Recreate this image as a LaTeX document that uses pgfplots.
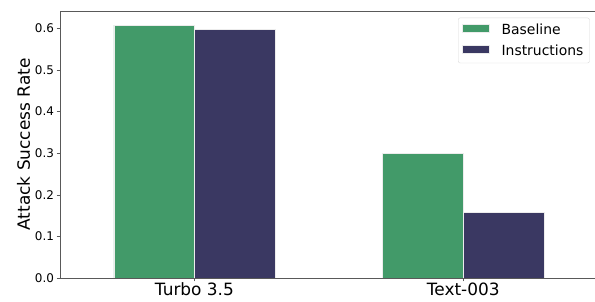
\documentclass[border=0pt]{standalone}
\usepackage{pgfplots}
\pgfplotsset{compat=1.18}
\usepackage{fontspec}
\setmainfont{DejaVu Sans}
\definecolor{cgreen}{HTML}{429A69}
\definecolor{cnavy}{HTML}{3A3862}
\begin{document}
\begin{tikzpicture}
\begin{axis}[
  name=a,
  scale only axis,
  width=535bp, height=267bp,
  xmin=-0.5, xmax=1.49,
  ymin=0, ymax=0.641,
  ybar, bar width=0.3, bar shift auto,
  xtick={0,1}, xticklabels={Turbo 3.5, Text-003},
  xticklabel style={font=\fontsize{17}{19}\selectfont, yshift=2bp},
  ytick={0,0.1,0.2,0.3,0.4,0.5,0.6},
  yticklabel style={font=\fontsize{12}{14}\selectfont, xshift=1bp},
  /pgf/number format/assume math mode=true,
  /pgf/number format/fixed, /pgf/number format/fixed zerofill, /pgf/number format/precision=1,
  ylabel={Attack Success Rate},
  ylabel style={font=\fontsize{17}{19}\selectfont, yshift=-2bp},
  tick align=outside, tick pos=left,
  major tick length=3.5bp,
  axis line style={gray!70!black},
  tick style={gray!70!black},
  legend style={at={(0.99,0.975)}, anchor=north east, font=\fontsize{14}{16}\selectfont, draw=gray!30, rounded corners=2pt, row sep=5bp, column sep=10bp, inner xsep=4bp, inner ysep=4bp},
  legend cell align=left,
  legend image code/.code={\fill[#1, sharp corners] (0cm,-0.08cm) rectangle (0.95cm,0.2cm);},
]
\addplot[fill=cgreen, draw=white!85!gray, line width=0.4pt, bar shift=-0.15] coordinates {(0,0.607) (1,0.300)};
\addplot[fill=cnavy, draw=white!85!gray, line width=0.4pt, bar shift=0.15] coordinates {(0,0.597) (1,0.157)};
\legend{Baseline, Instructions}
\end{axis}
\pgfresetboundingbox
\path (a.south west) ++(-60bp,-24bp) coordinate (bl);
\path (a.north east) ++(0bp,11bp) coordinate (tr);
\path[use as bounding box] (bl) rectangle (tr);
\end{tikzpicture}
\end{document}
